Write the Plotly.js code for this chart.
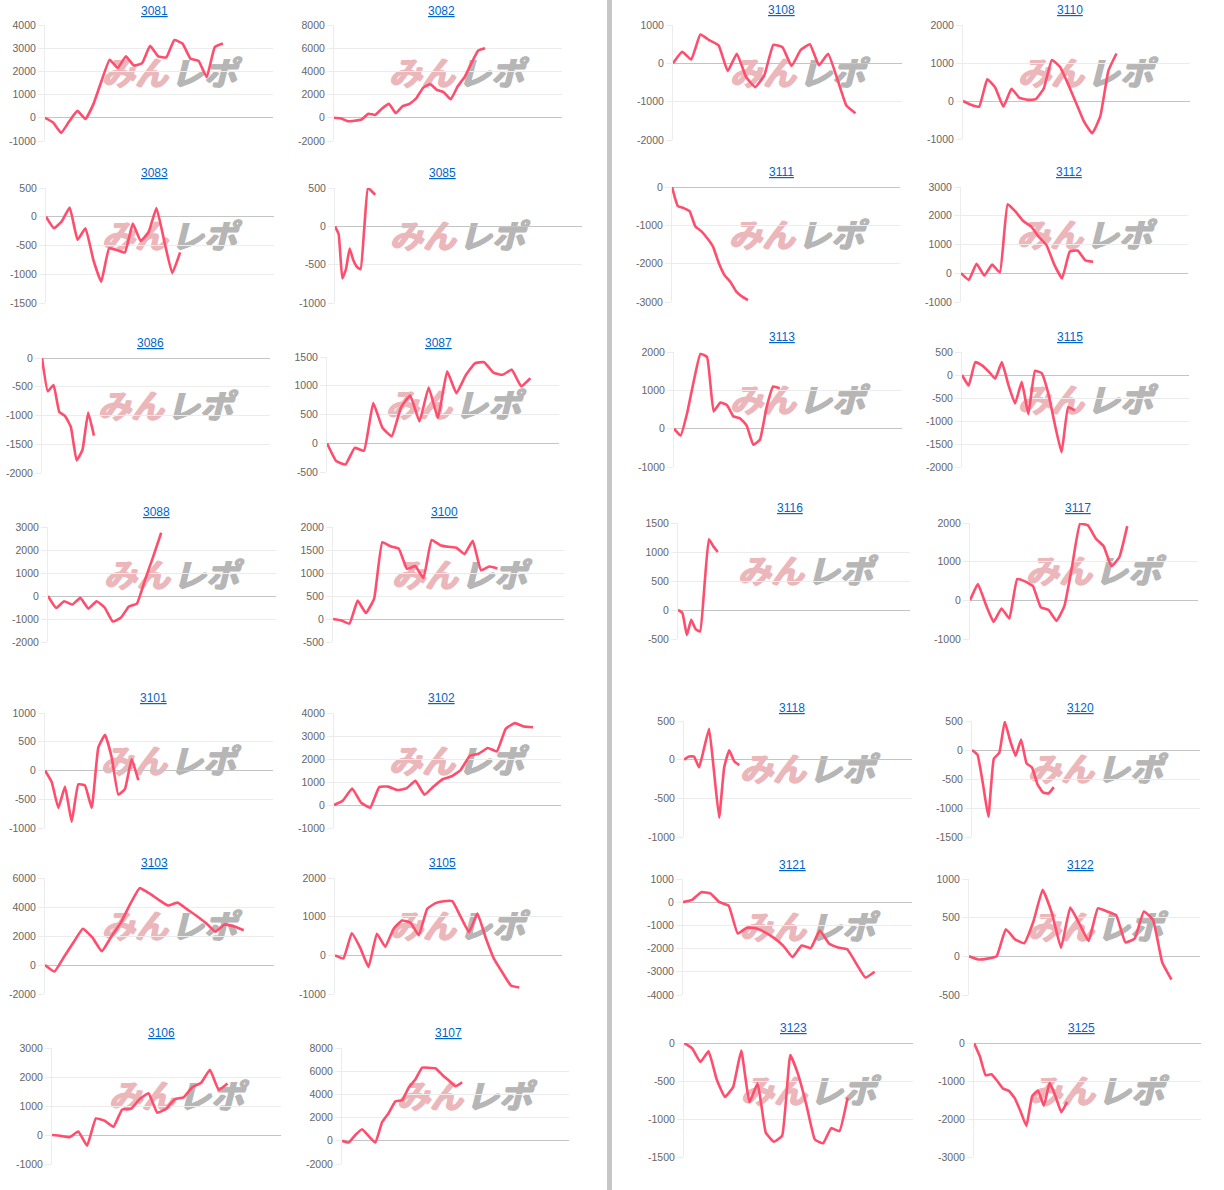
<!DOCTYPE html>
<html><head><meta charset="utf-8">
<script src="https://cdn.plot.ly/plotly-3.0.1.min.js"></script>
<style>html,body{margin:0;padding:0;background:#fff;} #chart{width:1224px;height:1190px;}</style>
</head><body><div id="chart"></div>
<script>
// ---- data ----
const machines = ['3081','3082','3108','3110','3083','3085','3111','3112','3086','3087','3113','3115',
  '3088','3100','3116','3117','3101','3102','3118','3120','3103','3105','3121','3122','3106','3107','3123','3125'];
const s3081 = [0,-200,-650,-150,300,-50,600,1600,2500,2150,2650,2250,2350,3100,2650,2600,3350,3200,2550,2450,1750,3050,3200];
const s3082 = [0,-50,-300,-250,-150,350,250,800,1200,400,1000,1200,1700,2600,2900,2400,2200,1600,2700,3500,4700,5800,6000];
const s3108 = [0,300,100,750,600,470,-200,250,-350,-620,-320,480,420,-70,350,500,-50,250,-400,-1100,-1300];
const s3110 = [0,-100,-150,570,350,-150,320,80,30,50,330,1080,900,450,-50,-550,-850,-400,800,1250];
const s3083 = [0,-200,-80,160,-400,-200,-750,-1130,-550,-580,-620,-120,-420,-270,150,-430,-980,-620];
const s3085 = [0,-100,-680,-560,-290,-440,-530,-560,-30,500,460,410];
const s3111 = [0,-500,-550,-630,-1030,-1150,-1330,-1550,-1980,-2300,-2480,-2730,-2860,-2950];
const s3112 = [0,-230,330,-80,300,30,2400,2150,1820,1630,1270,980,300,-180,760,790,450,400];
const s3086 = [0,-580,-470,-940,-1010,-1200,-1780,-1600,-950,-1350];
const s3087 = [0,-310,-370,-80,-130,700,270,120,620,830,380,970,440,1250,870,1180,1390,1410,1230,1190,1280,990,1130];
const s3113 = [0,-180,420,1250,1950,1870,450,680,620,320,270,80,-420,-290,550,1100,1050];
const s3115 = [0,-230,280,210,80,-80,280,-220,-620,-150,-850,90,40,-400,-1080,-1680,-700,-770];
const s3088 = [0,-520,-230,-370,-80,-550,-230,-500,-1110,-950,-460,-330,700,1700,2750];
const s3100 = [0,-30,-100,400,130,440,1670,1580,1530,1090,1150,890,1720,1610,1570,1550,1410,1700,1060,1140,1100];
const s3116 = [0,-50,-430,-170,-330,-370,420,1220,1100,1000];
const s3117 = [0,420,-100,-560,-210,-470,550,490,370,-180,-250,-530,-150,900,1980,1940,1600,1400,880,1120,1920];
const s3101 = [0,-200,-650,-280,-890,-240,-260,-650,400,620,230,-420,-320,200,-170];
const s3102 = [0,200,720,100,-120,780,800,650,720,1050,450,800,1120,1250,1520,2130,2230,2480,2330,3320,3560,3410,3380];
const s3118 = [0,40,40,-100,150,400,-170,-750,-100,120,-20,-70];
const s3120 = [0,-80,-580,-1150,-150,-50,490,160,-100,180,-230,-300,-590,-730,-750,-640];
const s3103 = [0,-450,550,1550,2500,1900,950,1950,2900,4200,5300,4950,4500,4100,4300,3850,3400,2900,2300,2800,2650,2400];
const s3105 = [0,-80,570,200,-300,560,220,690,900,850,520,1200,1350,1400,1400,1000,600,1080,450,-100,-450,-780,-830];
const s3121 = [0,100,430,380,0,-150,-1350,-1100,-1120,-1300,-1550,-1880,-2370,-1870,-1980,-1220,-1780,-1950,-2030,-2650,-3250,-3000];
const s3122 = [0,-40,-30,0,350,220,170,450,860,560,110,630,420,200,620,580,530,180,230,580,470,-80,-300];
const s3106 = [0,-30,-80,120,-370,570,490,280,880,900,1240,1440,770,900,1240,1300,1650,1800,2250,1560,1780];
const s3107 = [0,-150,500,1000,400,-150,1600,2400,3400,3500,4600,5300,6300,6300,6250,5700,5200,4700,5050];
const s3123 = [0,-70,-250,-110,-480,-710,-580,-100,-780,-530,-1180,-1300,-1220,-160,-430,-830,-1270,-1320,-1120,-1160,-720];
const s3125 = [0,-350,-850,-820,-1000,-1200,-1260,-1450,-1800,-2180,-1400,-1250,-1650,-1050,-1400,-1820,-1550];

const seriesList = [s3081,s3082,s3108,s3110,s3083,s3085,s3111,s3112,s3086,s3087,s3113,s3115,
  s3088,s3100,s3116,s3117,s3101,s3102,s3118,s3120,s3103,s3105,s3121,s3122,s3106,s3107,s3123,s3125];
// x-axis length (number of day slots) of each chart
const slots = [28.2,33.2,25.1,28.1,28.9,67.6,39,29.2,39.5,25.1,34.5,34.2,
  28.2,28.1,52.6,29,34.2,25.1,45.4,41.8,24.2,27.1,25.1,25.1,26.1,34,28,39];
// y axis scales
const yMin  = [-1000,-2000,-2000,-1000,-1500,-1000,-3000,-1000,-2000,-500,-1000,-2000,
  -2000,-500,-500,-1000,-1000,-1000,-1000,-1500,-2000,-1000,-4000,-500,-1000,-2000,-1500,-3000];
const yMax  = [4000,8000,1000,2000,500,500,0,3000,0,1500,2000,500,
  3000,2000,1500,2000,1000,4000,500,500,6000,2000,1000,1000,3000,8000,0,0];
const yStep = [1000,2000,1000,1000,500,500,1000,1000,500,500,1000,500,
  1000,500,500,1000,500,1000,500,500,2000,1000,1000,500,1000,2000,500,1000];

// ---- positions (pixels): plot x0, x1, top, bottom, title x, title y ----
const boxes = [
  [45,273,25,141,154,11],[334,562,25,141,441,11],[673,902,25,140,782,10],[963,1190,25,139,1070,10],
  [46,274,188,303,154,173],[335,582,188,303,442,173],[672,900,187,302,781,172],[961,1188,187,302,1069,172],
  [42,270,358,473,150,343],[327,559,357,472,438,343],[674,902,352,467,782,337],[962,1189,352,467,1070,337],
  [48,276,527,642,156,512],[333,564,527,642,444,512],[678,910,523,639,790,508],[970,1198,523,639,1078,508],
  [45,273,713,828,153,698],[334,561,713,828,441,698],[684,912,721,837,792,708],[972,1200,721,837,1080,708],
  [45,274,878,994,154,863],[335,562,878,994,442,863],[683,912,879,995,792,865],[969,1200,879,995,1080,865],
  [52,281,1048,1164,161,1033],[342,569,1048,1164,449,1033],[684,913,1043,1157,793,1028],[974,1201,1043,1157,1081,1028]
];

const W = 1224, H = 1190;
const traces = [];
const layout = {
  width: W, height: H, margin: {l:0, r:0, t:0, b:0}, showlegend: false,
  paper_bgcolor: '#ffffff', plot_bgcolor: 'rgba(0,0,0,0)',
  font: {family: '"Liberation Sans", Arial, sans-serif', color: '#666'},
  annotations: [], shapes: []
};

// divider bar
layout.shapes.push({type:'rect', xref:'paper', yref:'paper', x0:607/W, x1:612/W, y0:0, y1:1,
  fillcolor:'#c6c6c6', line:{width:0}, layer:'below'});

const pink = '#ecb7bb', gray = '#b6b6b6';
machines.forEach((m, i) => {
  const k = i === 0 ? '' : String(i + 1);
  const [x0, x1, yt, yb, tx, ty] = boxes[i];
  const ys = seriesList[i];
  traces.push({
    type: 'scatter', mode: 'lines', x: ys.map((_, j) => j), y: ys,
    xaxis: 'x' + k, yaxis: 'y' + k,
    line: {color: '#ff4d6d', width: 2.6, shape: 'spline', smoothing: 0.35},
    hoverinfo: 'y'
  });
  const tv = [];
  for (let v = yMin[i]; v <= yMax[i] + 1e-9; v += yStep[i]) tv.push(v);
  layout['xaxis' + k] = {
    domain: [x0 / W, x1 / W], range: [0, slots[i]], anchor: 'y' + k,
    showgrid: false, zeroline: false, showticklabels: false, showline: false,
    ticks: '', fixedrange: true
  };
  layout['yaxis' + k] = {
    domain: [1 - yb / H, 1 - yt / H], range: [yMin[i], yMax[i]], anchor: 'x' + k,
    tickmode: 'array', tickvals: tv, ticktext: tv.map(String),
    showgrid: true, gridcolor: '#ececec', gridwidth: 1,
    zeroline: true, zerolinecolor: '#c4c4c4', zerolinewidth: 1,
    showline: true, linecolor: '#ececec', linewidth: 1,
    ticks: 'outside', ticklen: 6, tickcolor: '#ececec',
    tickfont: {size: 10.5, color: '#666'}, fixedrange: true
  };
  // title (link style)
  layout.annotations.push({
    xref: 'paper', yref: 'paper', x: tx / W, y: 1 - ty / H, xanchor: 'center', yanchor: 'middle',
    text: '<u>' + m + '</u>', showarrow: false,
    font: {size: 12, color: '#0066cc'}
  });
  // watermark logo
  const cx = tx + 15, cy = yt + 51;
  layout.shapes.push({
    type: 'rect', xref: 'paper', yref: 'paper', layer: 'below',
    x0: (cx - 70) / W, x1: (cx + 2) / W, y0: 1 - (cy + 14) / H, y1: 1 - (cy - 14) / H,
    line: {width: 0}, fillcolor: 'rgba(0,0,0,0)',
    label: {text: 'みん', textposition: 'middle center',
      font: {family: '"Noto Sans CJK JP", sans-serif', size: 33, color: pink, weight: 'bold', style: 'italic',
        shadow: '1px 0 0 ' + pink + ', -1px 0 0 ' + pink + ', 0 1px 0 ' + pink}}
  });
  layout.shapes.push({
    type: 'rect', xref: 'paper', yref: 'paper', layer: 'below',
    x0: (cx + 0) / W, x1: (cx + 70) / W, y0: 1 - (cy + 14) / H, y1: 1 - (cy - 14) / H,
    line: {width: 0}, fillcolor: 'rgba(0,0,0,0)',
    label: {text: 'レポ', textposition: 'middle center',
      font: {family: '"Noto Sans CJK JP", sans-serif', size: 33, color: gray, weight: 'bold', style: 'italic',
        shadow: '1px 0 0 ' + gray + ', -1px 0 0 ' + gray + ', 0 1px 0 ' + gray}}
  });
});

Plotly.newPlot('chart', traces, layout, {displayModeBar: false, staticPlot: true});
</script>
</body></html>
